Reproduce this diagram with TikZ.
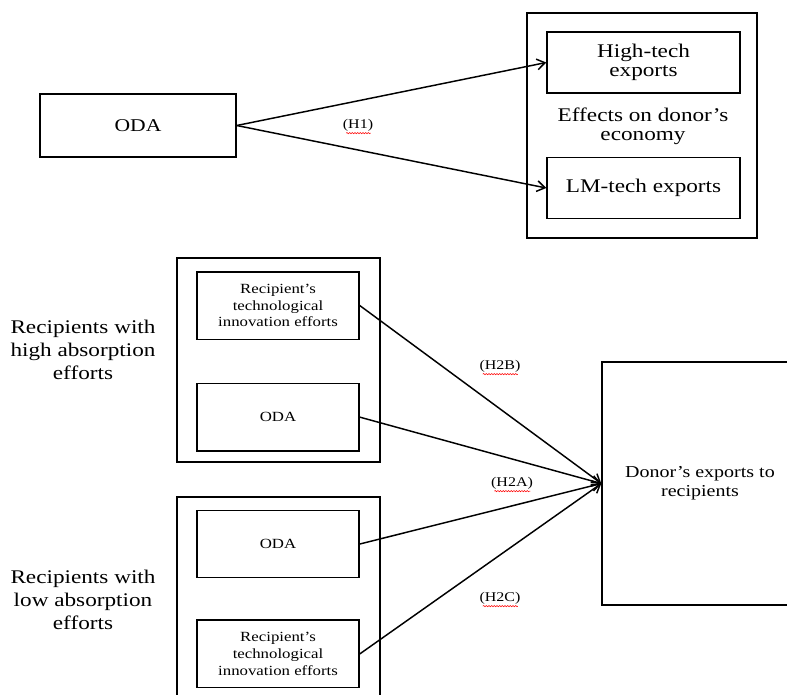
\documentclass[tikz,border=0pt]{standalone}
\usepackage{fontspec}
\setmainfont{Liberation Serif}
\newfontfamily\widefont[FakeStretch=1.2,Ligatures=TeX]{Liberation Serif}
\usetikzlibrary{arrows.meta,positioning,decorations.pathmorphing}

\begin{document}
\begin{tikzpicture}[x=0.75pt,y=-0.75pt,line width=1.1pt,>={Straight Barb[length=6pt,width=8pt]}]
\tikzstyle{frame}=[draw=black,inner sep=0pt,minimum width=152.25pt,minimum height=153pt]
\tikzstyle{box}=[draw=black,align=center,inner sep=0pt,minimum width=121.5pt,minimum height=50.6pt,font=\widefont\fontsize{10.5}{12.5}\selectfont]
\tikzstyle{bigbox}=[draw=black,align=center,inner sep=0pt,minimum width=144.75pt,minimum height=46pt,font=\widefont\fontsize{14.5}{14.5}\selectfont]
\tikzstyle{side}=[align=center,font=\widefont\fontsize{14.5}{17}\selectfont]
\tikzstyle{spell}=[draw=red,line width=0.4pt,decorate,decoration={snake,amplitude=0.45pt,segment length=2pt}]
\tikzstyle{hyp}=[inner sep=1pt,font=\widefont\fontsize{10}{12}\selectfont,append after command={([xshift=4pt]\tikzlastnode.south west) edge[spell] ([xshift=-3.5pt]\tikzlastnode.south east)}]
\clip (0,0) rectangle (787,694);
% upper part
\node[draw=black,minimum width=147pt,minimum height=47.25pt,font=\widefont\fontsize{13.5}{15}\selectfont] (oda) at (138,125.5) {ODA};
\node[frame,minimum width=172.5pt,minimum height=168.75pt] (effects) at (642,125.5) {};
\node[bigbox] (high) at (643.5,62.5) {High-tech\\exports};
\node[bigbox] (lmtech) at (643.5,188) {LM-tech exports};
\node[align=center,font=\widefont\fontsize{14.5}{14.5}\selectfont] (effectsLbl) at (643,126) {Effects on donor’s\\economy};
\draw[->] (oda.east) -- (high.west);
\draw[->] (oda.east) -- (lmtech.west);
\node[hyp] (h1) at (358,125) {(H1)};
% lower part
\node[frame] (highFrame) at (278.5,360) {};
\node[box] (recHigh) at (278,305.5) {Recipient’s\\technological\\innovation efforts};
\node[box,below=32pt of recHigh] (odaHigh) {ODA};
\node[side] (highLbl) at (83,350) {Recipients with\\high absorption\\efforts};
\node[frame] (lowFrame) at (278.5,599) {};
\node[box] (odaLow) at (278,544) {ODA};
\node[box,below=30.75pt of odaLow] (recLow) {Recipient’s\\technological\\innovation efforts};
\node[side] (lowLbl) at (83,600) {Recipients with\\low absorption\\efforts};
\node[draw=black,align=center,minimum width=147pt,minimum height=182.25pt,font=\widefont\fontsize{12.5}{14.5}\selectfont] (donor) at (700,483.5) {Donor’s exports to\\recipients};
\draw[->] (recHigh.east) -- (donor.west);
\draw[->] (odaHigh.east) -- (donor.west);
\draw[->] (odaLow.east) -- (donor.west);
\draw[->] (recLow.east) -- (donor.west);
\node[hyp] (h2b) at (500,366) {(H2B)};
\node[hyp] (h2a) at (512,483) {(H2A)};
\node[hyp] (h2c) at (500,598) {(H2C)};
\end{tikzpicture}
\end{document}
